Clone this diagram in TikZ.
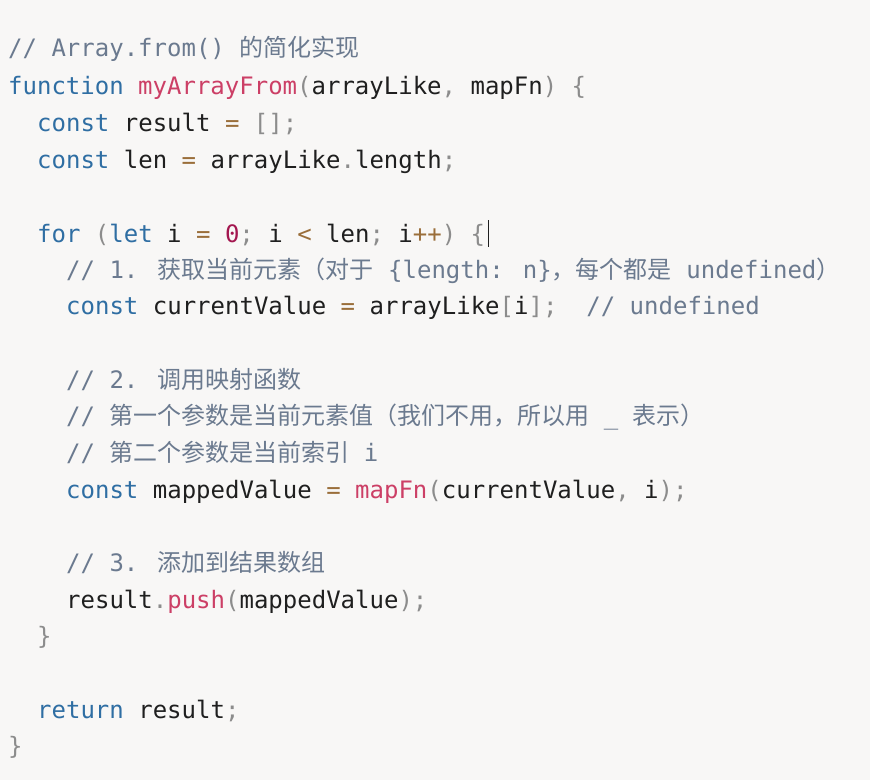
\documentclass[tikz,border=0pt]{standalone}
\usepackage{fontspec}
\newfontfamily\code{DejaVu Sans Mono}
\newfontfamily\cjk{Noto Sans CJK SC}
\usetikzlibrary{positioning}
\definecolor{bg}{HTML}{F8F7F6}
\definecolor{kwc}{HTML}{2F6EA3}
\definecolor{fnc}{HTML}{CC3F66}
\definecolor{cmc}{HTML}{6B7A8F}
\definecolor{puc}{HTML}{8C8C8C}
\definecolor{opc}{HTML}{9A6E3A}
\definecolor{nmc}{HTML}{A3164F}
\definecolor{txc}{HTML}{1F1F1F}
\newcommand\kw[1]{\textcolor{kwc}{#1}}
\newcommand\fn[1]{\textcolor{fnc}{#1}}
\newcommand\cm[1]{\textcolor{cmc}{#1}}
\newcommand\pu[1]{\textcolor{puc}{#1}}
\newcommand\op[1]{\textcolor{opc}{#1}}
\newcommand\nm[1]{\textcolor{nmc}{#1}}
\newcommand\zh[1]{{\cjk #1}}
\begin{document}
\begin{tikzpicture}[x=1pt, y=1pt]
  \tikzset{codeline/.style={anchor=base west, inner sep=0pt, text=txc, font=\code\fontsize{24}{24}\selectfont}}
  \fill[bg] (0,0) rectangle (870,-780);
  % one node per line, indent in steps of one character
  \node[codeline] (l1)  at (8,-56)     {\cm{// Array.from() \zh{的简化实现}}};
  \node[codeline] (l2)  at (8,-94)     {\kw{function} \fn{myArrayFrom}\pu{(}arrayLike\pu{,} mapFn\pu{)} \pu{\{}};
  \node[codeline] (l3)  at (37,-131)   {\kw{const} result \op{=} \pu{[];}};
  \node[codeline] (l4)  at (37,-168)   {\kw{const} len \op{=} arrayLike\pu{.}length\pu{;}};
  \node[codeline] (l6)  at (37,-242)   {\kw{for} \pu{(}\kw{let} i \op{=} \nm{0}\pu{;} i \op{<} len\pu{;} i\op{++}\pu{)} \pu{\{}};
  \node[codeline] (l7)  at (66,-278)   {\cm{// 1. \zh{获取当前元素（对于} \{length: n\}\zh{，每个都是} undefined\zh{）}}};
  \node[codeline] (l8)  at (66,-314)   {\kw{const} currentValue \op{=} arrayLike\pu{[}i\pu{];}\ \ \cm{// undefined}};
  \node[codeline] (l10) at (66,-388)   {\cm{// 2. \zh{调用映射函数}}};
  \node[codeline] (l11) at (66,-424)   {\cm{// \zh{第一个参数是当前元素值（我们不用，所以用} \_ \zh{表示）}}};
  \node[codeline] (l12) at (66,-461)   {\cm{// \zh{第二个参数是当前索引} i}};
  \node[codeline] (l13) at (66,-498)   {\kw{const} mappedValue \op{=} \fn{mapFn}\pu{(}currentValue\pu{,} i\pu{);}};
  \node[codeline] (l15) at (66,-571)   {\cm{// 3. \zh{添加到结果数组}}};
  \node[codeline] (l16) at (66,-608)   {result\pu{.}\fn{push}\pu{(}mappedValue\pu{);}};
  \node[codeline] (l17) at (37,-644)   {\pu{\}}};
  \node[codeline] (l19) at (37,-718)   {\kw{return} result\pu{;}};
  \node[codeline] (l20) at (8,-754)    {\pu{\}}};
  % caret
  \coordinate (c1) at (l6.north east);
  \draw[txc, line width=1.2pt] ([xshift=3]l6.east |- 0,-220) -- ([xshift=3]l6.east |- 0,-247);
\end{tikzpicture}
\end{document}
